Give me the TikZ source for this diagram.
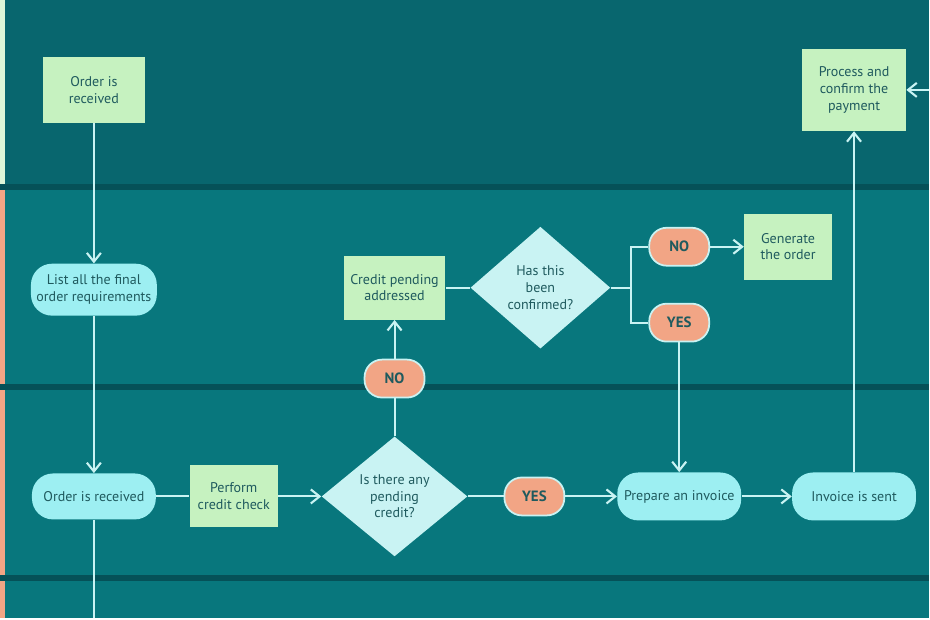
\documentclass[tikz,border=0pt]{standalone}
\usepackage{fontspec}
\setmainfont{PT Sans}
\usetikzlibrary{shapes.geometric,arrows.meta}
\definecolor{laneA}{HTML}{08666E}
\definecolor{laneB}{HTML}{08777D}
\definecolor{sepC}{HTML}{055158}
\definecolor{boxG}{HTML}{C6F2C0}
\definecolor{pillC}{HTML}{9DEFF2}
\definecolor{diaC}{HTML}{C9F3F3}
\definecolor{pillO}{HTML}{F2A585}
\definecolor{txtC}{HTML}{1F5A5E}
\definecolor{lineC}{HTML}{C9F3F3}
\tikzset{
  every node/.style={font=\fontsize{8}{9.5}\selectfont, text=txtC, align=center, inner sep=0pt},
  task/.style={rectangle, fill=boxG, minimum width=#1},
  act/.style={rectangle, rounded corners=12pt, fill=pillC, minimum height=48*0.02cm, minimum width=124*0.02cm},
  ask/.style={diamond, fill=diaC, aspect=1.2},
  pill/.style={rectangle, rounded corners=10pt, fill=pillO, draw=diaC, line width=1pt, minimum width=60*0.02cm, minimum height=38*0.02cm, font=\fontsize{8.5}{10}\selectfont\bfseries},
  flow/.style={draw=lineC, line width=1.2pt},
  go/.style={flow, -{Straight Barb[length=5pt,width=8pt]}}
}
\begin{document}
\begin{tikzpicture}[x=0.02cm, y=-0.02cm]
    % lanes
    \fill[laneA] (0,0) rectangle (930,184);
    \fill[sepC] (0,184) rectangle (930,190);
    \fill[laneB] (0,190) rectangle (930,384);
    \fill[sepC] (0,384) rectangle (930,390);
    \fill[laneB] (0,390) rectangle (930,576);
    \fill[sepC] (0,576) rectangle (930,582);
    \fill[laneB] (0,582) rectangle (930,619);
    \fill[boxG!60!white] (0,0) rectangle (5,184);
    \fill[pillO] (0,190) rectangle (5,384);
    \fill[pillO] (0,390) rectangle (5,576);
    \fill[pillO] (0,582) rectangle (5,619);
    % nodes
    \node[task=102*0.02cm, minimum height=66*0.02cm] (recv) at (94,90) {Order is\\received};
    \node[act, minimum width=126*0.02cm, minimum height=52*0.02cm] (list) at (94,290) {List all the final\\order requirements};
    \node[act, minimum height=46*0.02cm] (recv2) at (94,497) {Order is received};
    \node[task=88*0.02cm, minimum height=62*0.02cm] (check) at (234,497) {Perform\\credit check};
    \node[ask, minimum width=146*0.02cm, minimum height=120*0.02cm] (pend) at (395,497) {Is there any\\pending\\credit?};
    \node[pill] (yes1) at (535,497) {YES};
    \node[act] (inv) at (680,497) {Prepare an invoice};
    \node[act] (sent) at (855,497) {Invoice is sent};
    \node[task=104*0.02cm, minimum height=82*0.02cm] (pay) at (855,90) {Process and\\confirm the\\payment};
    \node[pill] (no1) at (395,379) {NO};
    \node[task=102*0.02cm, minimum height=64*0.02cm] (addr) at (395,288) {Credit pending\\addressed};
    \node[ask, minimum width=140*0.02cm, minimum height=122*0.02cm] (conf) at (541,288) {Has this\\been\\confirmed?};
    \coordinate (fork) at (632,288);
    \node[pill] (no2) at (680,247) {NO};
    \node[pill] (yes2) at (680,323) {YES};
    \node[task=88*0.02cm, minimum height=66*0.02cm] (gen) at (789,247) {Generate\\the order};
    \coordinate (rightin) at (930,90);
    \coordinate (bottom) at (94,619);
    % connectors
    \draw[go] (recv) -- (list);
    \draw[go] (list) -- (recv2);
    \draw[flow] (recv2) -- (bottom);
    \draw[flow] (recv2) -- (check);
    \draw[go] (check) -- (pend);
    \draw[flow] (pend) -- (yes1);
    \draw[go] (yes1) -- (inv);
    \draw[go] (inv) -- (sent);
    \draw[go] (sent) -- (pay);
    \draw[go] (rightin) -- (pay);
    \draw[flow] (pend) -- (no1);
    \draw[go] (no1) -- (addr);
    \draw[flow] (addr) -- (conf);
    \draw[flow] (conf) -- (fork);
    \draw[flow] (fork) |- (no2);
    \draw[flow] (fork) |- (yes2);
    \draw[go] (no2) -- (gen);
    \draw[go] (yes2) -- (inv);
\end{tikzpicture}
\end{document}
